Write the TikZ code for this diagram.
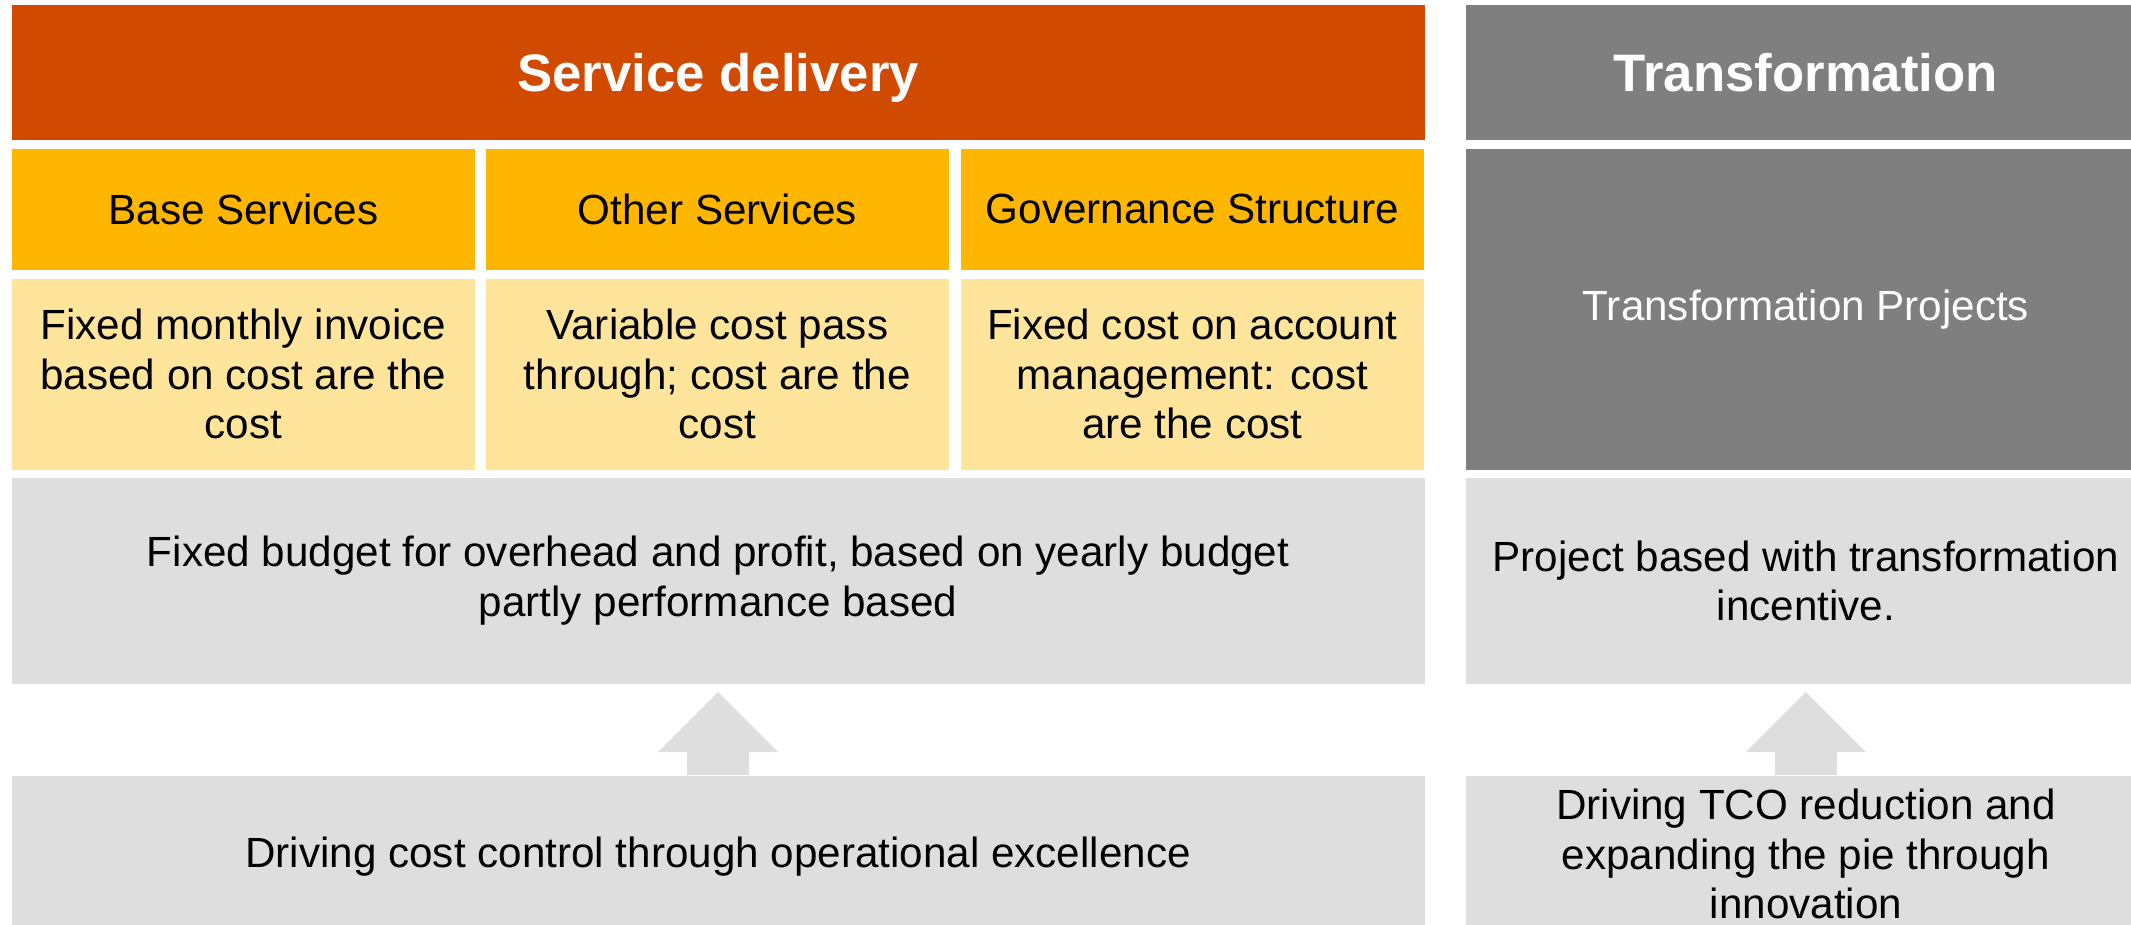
\documentclass[tikz,border=0pt]{standalone}
\usepackage{fontspec}
\setmainfont{Liberation Sans}
\usetikzlibrary{positioning}

\definecolor{sdorange}{HTML}{D04A02}
\definecolor{sdyellow}{HTML}{FFB600}
\definecolor{sdlight}{HTML}{FFE49C}
\definecolor{trdark}{HTML}{7F7F7F}
\definecolor{boxgray}{HTML}{DEDEDE}

\tikzset{
  cell/.style={anchor=north west, inner sep=0pt, align=center,
    font=\fontsize{12}{14.1}\selectfont},
  bigbar/.style={cell, text=white, text depth=0pt, font=\bfseries\fontsize{15}{18}\selectfont},
  subbar/.style={cell, fill=sdyellow, minimum width=4.63cm, minimum height=1.21cm},
  costbox/.style={cell, fill=sdlight, minimum width=4.63cm, minimum height=1.91cm},
  graybox/.style={cell, fill=boxgray},
  blockarrow/.style={fill=boxgray}
}

\begin{document}
\begin{tikzpicture}[x=0.01cm, y=-0.01cm]
\useasboundingbox (0,0) rectangle (2131,924);

% service delivery
\node (sd) [bigbar, fill=sdorange, minimum width=14.12cm, minimum height=1.35cm] at (11,4) {Service delivery};
\node (base) [subbar] at (11,148) {Base Services};
\node (other) [subbar] at (485,148) {Other Services};
\node (gov) [subbar] at (960,148) {Governance Structure};
\node (basecost) [costbox] at (11,278) {Fixed monthly invoice\\based on cost are the\\cost};
\node (othercost) [costbox] at (485,278) {Variable cost pass\\through; cost are the\\cost};
\node (govcost) [costbox] at (960,278) {Fixed cost on account\\management: cost\\are the cost};
\node (budget) [graybox, minimum width=14.12cm, minimum height=2.06cm] at (11,477)
  {Fixed budget for overhead and profit, based on yearly budget\\partly performance based};
\node (drive) [graybox, minimum width=14.12cm, minimum height=1.62cm] at (11,775)
  {Driving cost control through operational excellence};

% transformation
\node (tr) [bigbar, fill=trdark, minimum width=6.8cm, minimum height=1.35cm] at (1465,4) {Transformation};
\node (proj) [cell, fill=trdark, text=white, minimum width=6.8cm, minimum height=3.21cm] at (1465,148) {Transformation Projects};
\node (incent) [graybox, minimum width=6.8cm, minimum height=2.06cm] at (1465,477)
  {Project based with transformation\\incentive.};
\node (tco) [graybox, minimum width=6.8cm, minimum height=1.57cm] at (1465,775)
  {Driving TCO reduction and\\expanding the pie through\\innovation};

% block arrows
\fill[blockarrow] (drive.north) ++(-31,0) -- ++(0,-23) -- ++(-29,0) -- ++(60,-60)
  -- ++(60,60) -- ++(-29,0) -- ++(0,23) -- cycle;
\fill[blockarrow] (tco.north) ++(-31,0) -- ++(0,-23) -- ++(-29,0) -- ++(60,-60)
  -- ++(60,60) -- ++(-29,0) -- ++(0,23) -- cycle;
\end{tikzpicture}
\end{document}
